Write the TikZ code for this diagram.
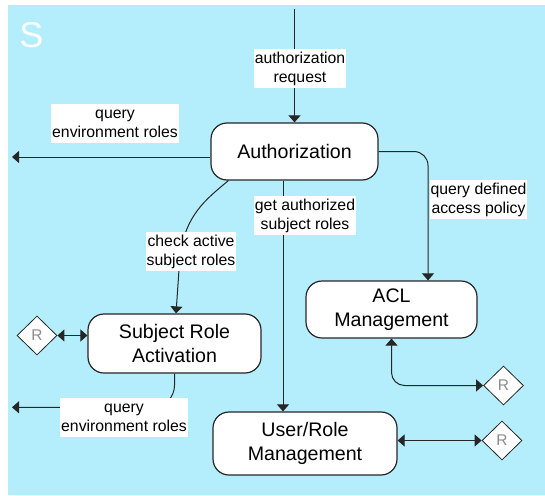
\documentclass[tikz,border=0pt]{standalone}
\usepackage{fontspec}
\setmainfont{Liberation Sans}
\usetikzlibrary{arrows.meta,shapes.geometric}
\definecolor{Sky}{HTML}{B4EEFC}
\definecolor{Ink}{HTML}{262626}
\definecolor{Mute}{HTML}{8C8C8C}

\begin{document}
\begin{tikzpicture}[x=1pt,y=1pt,
  proc/.style={draw=Ink,line width=1.2pt,fill=white,rounded corners=16pt,inner sep=0pt,
    align=center,font=\fontsize{19.6}{23.5}\selectfont},
  rdia/.style={diamond,draw=Ink,line width=0.8pt,fill=white,inner sep=0pt,minimum width=40pt,
    minimum height=39pt,text=Mute,font=\fontsize{15.5}{18}\selectfont},
  lab/.style={fill=white,inner xsep=1pt,inner ysep=0pt,minimum height=39pt,align=center,
    font=\fontsize{15.8}{19}\selectfont},
  conn/.style={draw=Ink,line width=1pt,-{Triangle[width=12pt,length=7pt]}},
  conn2/.style={conn,{Triangle[width=12pt,length=7pt]}-{Triangle[width=12pt,length=7pt]}}]
  \useasboundingbox (0,0) rectangle (545,-495);
  \fill[Sky] (8,-5) rectangle (545,-495);
  \node[white,font=\fontsize{36}{36}\selectfont] (sname) at (31.5,-35.5) {S};

  \node[proc,minimum width=167pt,minimum height=57pt] (auth) at (294.5,-151.5) {Authorization};
  \node[proc,minimum width=173pt,minimum height=59pt] (sra) at (174.5,-343.5) {Subject Role\\Activation};
  \node[proc,minimum width=171pt,minimum height=57pt] (acl) at (391.5,-309.5) {ACL\\Management};
  \node[proc,minimum width=184pt,minimum height=63pt] (urm) at (305,-443.5) {User/Role\\Management};
  \foreach \nm/\px/\py in {rsra/37/335.5,racl/503.5/385.5,rurm/502/440.5}
    \node[rdia] (\nm) at (\px,-\py) {R};

  \coordinate (req) at (294.5,-9);
  \coordinate (envA) at (12,-157);
  \coordinate (envS) at (12,-407.3);

  \draw[conn] (req) -- (auth.north);
  \draw[conn] ([yshift=-5.5pt]auth.west) -- (envA);
  \draw[conn] ([xshift=18pt]auth.south west) .. controls (205,-200) and (186,-215) .. (180,-255)
    -- ([xshift=1.5pt]sra.north);
  \draw[conn] ([xshift=-11.5pt]auth.south) -- ([xshift=-22pt]urm.north);
  \draw[conn,rounded corners=14pt] (auth.east) -| ([xshift=36.5pt]acl.north);
  \draw[conn,rounded corners=22pt] (sra.south) |- (envS);
  \draw[conn2,rounded corners=13pt] (acl.south) |- (racl.west);
  \draw[conn2] (rsra.east) -- (rsra.east -| sra.west);
  \draw[conn2] (urm.east |- rurm.west) -- (rurm.west);

  \foreach \nm/\px/\py/\txt in {lreq/300/68.5/{authorization\\request},
      lenva/115/123.5/{query\\environment roles},
      lchk/191/251.5/{check active\\subject roles},
      lget/305/215.5/{get authorized\\subject roles},
      lpol/478.5/199.5/{query defined\\access policy},
      lenvs/124/417.5/{query\\environment roles}}
    \node[lab] (\nm) at (\px,-\py) {\txt};
\end{tikzpicture}
\end{document}
